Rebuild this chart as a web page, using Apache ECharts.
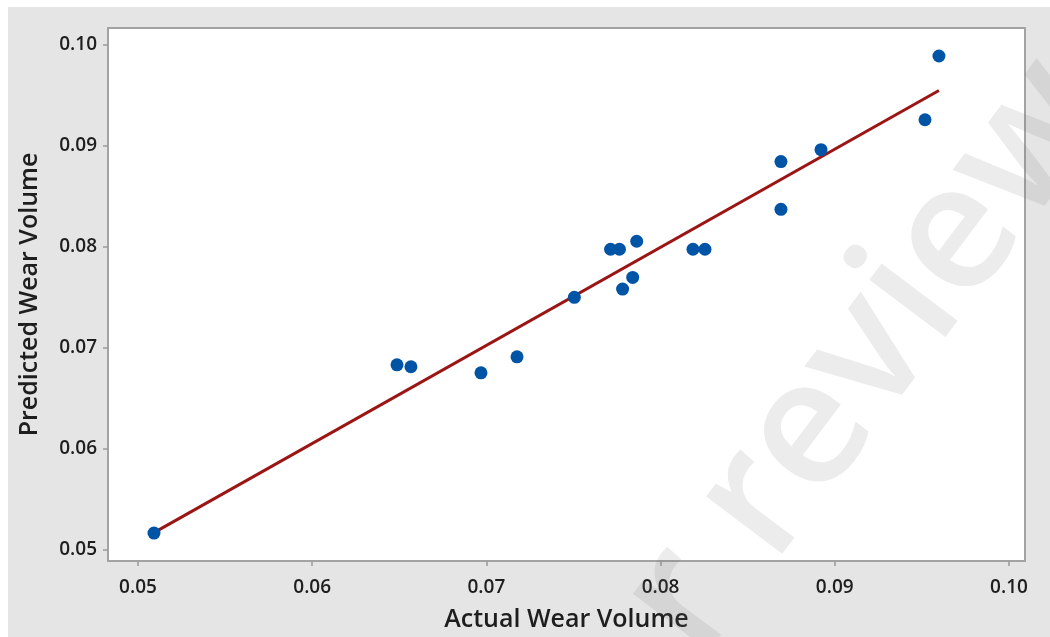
<!DOCTYPE html>
<html>
<head>
<meta charset="utf-8">
<script src="https://cdn.jsdelivr.net/npm/echarts@6.0.0/dist/echarts.min.js"></script>
<style>
  html, body { margin: 0; padding: 0; background: #ffffff; }
  #chart { position: absolute; left: 8px; top: 7px; width: 1042px; height: 630px; }
</style>
</head>
<body>
<div id="chart"></div>
<script>
// Actual vs predicted wear volume for each specimen
const actualWear = [0.05092, 0.06487, 0.06567, 0.06969, 0.07176, 0.07505, 0.07713, 0.07764,
                    0.07782, 0.07840, 0.07863, 0.08186, 0.08255, 0.08691, 0.08691, 0.08921,
                    0.09518, 0.09598];
const predictedWear = [0.05168, 0.06834, 0.06815, 0.06755, 0.06913, 0.07502, 0.07978, 0.07978,
                       0.07584, 0.07699, 0.08057, 0.07978, 0.07978, 0.08846, 0.08373, 0.08964,
                       0.09260, 0.09891];

// End points of the fitted regression line
const fitX = [0.05092, 0.09598];
const fitY = [0.05173, 0.09549];

// Tick positions on both axes
const xTicks = [0.05, 0.06, 0.07, 0.08, 0.09, 0.10];
const yTicks = [0.05, 0.06, 0.07, 0.08, 0.09, 0.10];

const points = actualWear.map((v, i) => [v, predictedWear[i]]);
const fitLine = fitX.map((v, i) => [v, fitY[i]]);

const FONT = '"Open Sans", "Noto Sans", sans-serif';
const labelStyle = {
  fontFamily: FONT,
  fontSize: 19,
  fontWeight: 600,
  color: '#1e1e1e',
  formatter: v => Number(v).toFixed(2)
};
const titleStyle = { fontFamily: FONT, fontSize: 25, fontWeight: 600, color: '#1e1e1e' };
const tickStyle = { show: true, inside: false, length: 5, lineStyle: { color: '#9a9a9a', width: 1.5 } };

const chart = echarts.init(document.getElementById('chart'), null, { renderer: 'canvas' });
chart.setOption({
  backgroundColor: '#e5e5e5',
  animation: false,
  grid: {
    left: 100, top: 21, width: 917, height: 535,
    show: true, backgroundColor: '#ffffff', borderColor: '#a3a3a3', borderWidth: 2
  },
  xAxis: {
    type: 'value',
    min: 0.04828, max: 0.10092,
    name: 'Actual Wear Volume',
    nameLocation: 'middle',
    nameGap: 46,
    nameTextStyle: titleStyle,
    axisLine: { show: false },
    splitLine: { show: false },
    axisTick: Object.assign({ customValues: xTicks }, tickStyle),
    axisLabel: Object.assign({ customValues: xTicks, margin: 17 }, labelStyle)
  },
  yAxis: {
    type: 'value',
    min: 0.04892, max: 0.10168,
    name: 'Predicted Wear Volume',
    nameLocation: 'middle',
    nameRotate: 90,
    nameGap: 66,
    nameTextStyle: titleStyle,
    axisLine: { show: false },
    splitLine: { show: false },
    axisTick: Object.assign({ customValues: yTicks }, tickStyle),
    axisLabel: Object.assign({ customValues: yTicks, margin: 11 }, labelStyle)
  },
  series: [
    {
      type: 'line',
      data: fitLine,
      symbol: 'none',
      z: 2,
      lineStyle: { color: '#9c1515', width: 3 }
    },
    {
      type: 'scatter',
      data: points,
      symbol: 'circle',
      symbolSize: 13,
      z: 3,
      itemStyle: { color: '#0054a6', opacity: 1 }
    }
  ],
  graphic: [
    {
      type: 'text',
      x: 859, y: 351,
      rotation: 53 * Math.PI / 180,
      silent: true,
      z: 100,
      style: {
        text: 'r review',
        fontFamily: FONT,
        fontSize: 176,
        fontWeight: 600,
        fill: 'rgba(110,110,110,0.13)',
        align: 'center',
        verticalAlign: 'middle'
      }
    }
  ]
});
</script>
</body>
</html>
